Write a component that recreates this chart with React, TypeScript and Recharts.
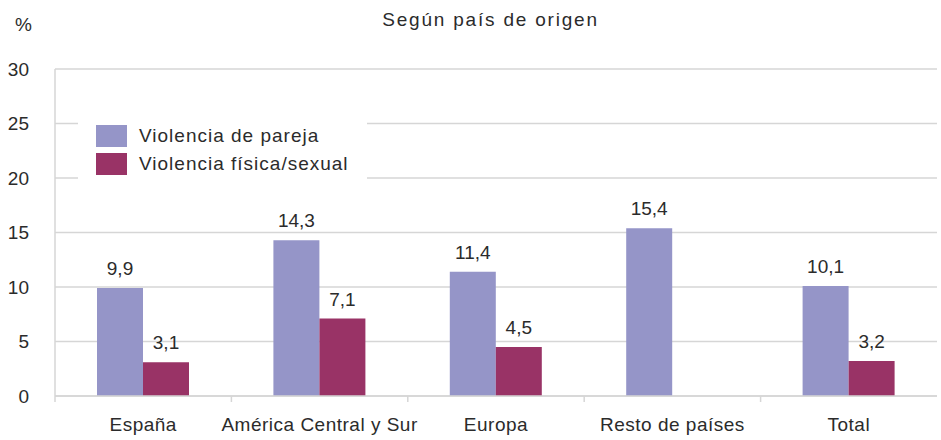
import { BarChart, Bar, XAxis, YAxis, CartesianGrid, Legend, LabelList } from 'recharts';

const categories = ['España', 'América Central y Sur', 'Europa', 'Resto de países', 'Total'];
const parejaValues = [9.9, 14.3, 11.4, 15.4, 10.1];
const fisicaValues: (number | null)[] = [3.1, 7.1, 4.5, null, 3.2];
const yTicks = [0, 5, 10, 15, 20, 25, 30];

const PAREJA = '#9595c8';
const FISICA = '#993366';
const TEXT = '#2b2b2b';
const GRID = '#d6d6d6';
const FONT = '"Liberation Sans", Arial, sans-serif';

const data = categories.map((name, i) => ({
  name,
  pareja: parejaValues[i],
  fisica: fisicaValues[i],
}));

// coma decimal, y nada si no hay dato
const fmt = (v: unknown) => (typeof v === 'number' ? v.toFixed(1).replace('.', ',') : '');

// etiqueta de categoría + marca de separación en el borde izquierdo de la banda
const XTick = (props: any) => {
  const { x, y, payload } = props;
  const half = payload?.offset ?? 88;
  return (
    <g>
      <line x1={x - half} x2={x - half} y1={y} y2={y + 6} stroke={GRID} strokeWidth={1.5} />
      <text
        x={x}
        y={y + 35}
        textAnchor="middle"
        fill={TEXT}
        fontSize={19}
        fontFamily={FONT}
        style={{ letterSpacing: 0.5 }}
      >
        {payload.value}
      </text>
    </g>
  );
};

const LegendBox = () => (
  <div style={{ background: '#fff', width: '100%', height: '100%', position: 'relative', fontFamily: FONT }}>
    {[
      { label: 'Violencia de pareja', color: PAREJA },
      { label: 'Violencia física/sexual', color: FISICA },
    ].map((it, i) => (
      <div
        key={it.label}
        style={{ position: 'absolute', left: 18, top: 7 + i * 28, display: 'flex', alignItems: 'center', height: 22 }}
      >
        <div style={{ width: 31, height: 22, background: it.color }} />
        <span style={{ marginLeft: 12, fontSize: 19, letterSpacing: 1, color: TEXT, whiteSpace: 'nowrap' }}>
          {it.label}
        </span>
      </div>
    ))}
  </div>
);

export default function App() {
  return (
    <div style={{ position: 'absolute', left: 0, top: 0, width: 941, height: 440, background: '#fff', fontFamily: FONT }}>
      <div
        style={{
          position: 'absolute',
          left: 0,
          width: 981,
          top: 9,
          textAlign: 'center',
          fontSize: 19,
          letterSpacing: 1.8,
          color: TEXT,
        }}
      >
        Según país de origen
      </div>
      <div style={{ position: 'absolute', left: 15, top: 14, fontSize: 19, color: TEXT }}>%</div>
      <BarChart
        width={941}
        height={440}
        data={data}
        margin={{ top: 69, right: 4, left: 0, bottom: 0 }}
        barGap={0}
        barSize={46}
      >
        <CartesianGrid vertical={false} stroke={GRID} strokeWidth={1.5} />
        <XAxis
          dataKey="name"
          height={44}
          axisLine={{ stroke: GRID, strokeWidth: 1.5 }}
          tickLine={false}
          tickSize={0}
          tickMargin={0}
          tick={<XTick />}
          interval={0}
        />
        <YAxis
          width={55}
          domain={[0, 30]}
          ticks={yTicks}
          axisLine={{ stroke: GRID, strokeWidth: 1.5 }}
          tickLine={false}
          tickSize={0}
          tickMargin={26}
          tick={{ fill: TEXT, fontSize: 19, fontFamily: FONT }}
        />
        <Legend
          layout="horizontal"
          verticalAlign="middle"
          align="center"
          content={<LegendBox />}
          wrapperStyle={{ left: 78, top: 118, width: 289, height: 64 }}
        />
        <Bar dataKey="pareja" fill={PAREJA} isAnimationActive={false}>
          <LabelList dataKey="pareja" position="top" offset={13} formatter={fmt} fill={TEXT} fontSize={19} fontFamily={FONT} />
        </Bar>
        <Bar dataKey="fisica" fill={FISICA} isAnimationActive={false}>
          <LabelList dataKey="fisica" position="top" offset={13} formatter={fmt} fill={TEXT} fontSize={19} fontFamily={FONT} />
        </Bar>
      </BarChart>
    </div>
  );
}
